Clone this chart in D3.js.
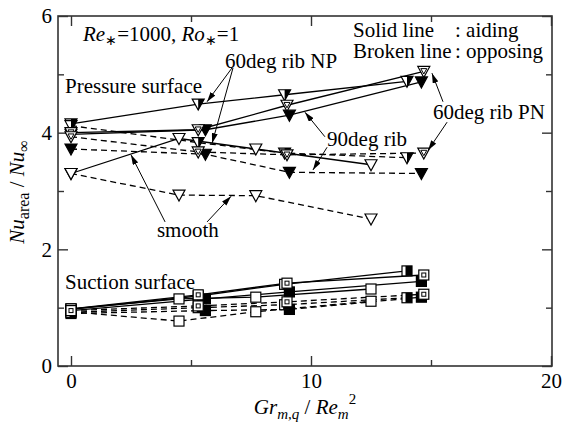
<!DOCTYPE html>
<html><head><meta charset="utf-8">
<script src="https://cdn.jsdelivr.net/npm/d3@7/dist/d3.min.js"></script>
</head>
<body style="margin:0;background:#fff;font-family:Liberation Serif"><svg id="chart" width="572" height="422"></svg>
<script>
// ---------- data ----------
const configs = ["smooth", "90deg rib", "60deg rib NP", "60deg rib PN"];
const grSmooth = [0, 4.5, 7.7, 12.5];
const gr90     = [0, 5.6, 9.1, 14.6];
const grNP     = [0, 5.3, 8.9, 14.0];
const grPN     = [0, 5.3, 9.0, 14.7];

// Pressure surface (aiding = solid, opposing = broken)
const pSmoothAid = [3.30, 3.90, 3.72, 3.45];
const pSmoothOpp = [3.30, 2.93, 2.92, 2.52];
const p90Aid     = [3.97, 4.05, 4.30, 4.87];
const p90Opp     = [3.72, 3.63, 3.32, 3.30];
const pNPAid     = [4.15, 4.49, 4.65, 4.88];
const pNPOpp     = [4.12, 3.83, 3.65, 3.57];
const pPNAid     = [4.00, 4.05, 4.47, 5.05];
const pPNOpp     = [3.93, 3.67, 3.62, 3.65];

// Suction surface
const sSmoothAid = [0.98, 1.15, 1.18, 1.32];
const sSmoothOpp = [0.93, 0.77, 0.93, 1.11];
const s90Aid     = [0.95, 1.15, 1.27, 1.45];
const s90Opp     = [0.90, 0.95, 0.97, 1.18];
const sNPAid     = [0.97, 1.20, 1.40, 1.63];
const sNPOpp     = [0.92, 1.00, 1.05, 1.17];
const sPNAid     = [0.98, 1.22, 1.42, 1.56];
const sPNOpp     = [0.95, 1.03, 1.10, 1.23];

const xMajorTicks = [0, 10, 20];
const xMinorTicks = [5, 15];
const yMajorTicks = [0, 2, 4, 6];
const yMinorTicks = [1, 3, 5];

// ---------- series table ----------
const grByConfig = {"smooth": grSmooth, "90deg rib": gr90, "60deg rib NP": grNP, "60deg rib PN": grPN};
const markerByConfig = {"smooth": "open", "90deg rib": "fill", "60deg rib NP": "half", "60deg rib PN": "double"};
const series = [
  {surf:"p", cfg:"smooth", mode:"aid", v:pSmoothAid}, {surf:"p", cfg:"smooth", mode:"opp", v:pSmoothOpp},
  {surf:"p", cfg:"90deg rib", mode:"aid", v:p90Aid}, {surf:"p", cfg:"90deg rib", mode:"opp", v:p90Opp},
  {surf:"p", cfg:"60deg rib NP", mode:"aid", v:pNPAid}, {surf:"p", cfg:"60deg rib NP", mode:"opp", v:pNPOpp},
  {surf:"p", cfg:"60deg rib PN", mode:"aid", v:pPNAid}, {surf:"p", cfg:"60deg rib PN", mode:"opp", v:pPNOpp},
  {surf:"s", cfg:"smooth", mode:"aid", v:sSmoothAid}, {surf:"s", cfg:"smooth", mode:"opp", v:sSmoothOpp},
  {surf:"s", cfg:"90deg rib", mode:"aid", v:s90Aid}, {surf:"s", cfg:"90deg rib", mode:"opp", v:s90Opp},
  {surf:"s", cfg:"60deg rib NP", mode:"aid", v:sNPAid}, {surf:"s", cfg:"60deg rib NP", mode:"opp", v:sNPOpp},
  {surf:"s", cfg:"60deg rib PN", mode:"aid", v:sPNAid}, {surf:"s", cfg:"60deg rib PN", mode:"opp", v:sPNOpp}
].map(s => ({...s, pts: grByConfig[s.cfg].map((g,i)=>({x:g, y:s.v[i]}))}));

// ---------- layout ----------
const SERIF = "Liberation Serif";
const svg = d3.select("#chart");
const frame = {left:58, right:552, top:16, bottom:366};
const x = d3.scaleLinear().domain([0, 20]).range([71, 551]);
const y = d3.scaleLinear().domain([0, 6]).range([366, 16]);
const FS = 21;
const axisColor = "#333";

svg.append("rect").attr("x", frame.left).attr("y", frame.top)
  .attr("width", frame.right-frame.left).attr("height", frame.bottom-frame.top)
  .attr("fill","none").attr("stroke", axisColor).attr("stroke-width", 1.6);

function styleAxis(g){
  g.attr("font-family", null).attr("font-size", null);
  g.select(".domain").remove();
  g.selectAll(".tick line").attr("stroke", axisColor).attr("stroke-width", 1.4);
  g.selectAll(".tick text").attr("font-size", FS).attr("font-family", SERIF).style("font-family", SERIF).attr("fill","#000");
}
svg.append("g").attr("transform",`translate(0,${frame.bottom})`)
  .call(d3.axisBottom(x).tickValues(xMajorTicks).tickSize(-10).tickPadding(7).tickFormat(d3.format("d"))).call(styleAxis);
svg.append("g").attr("transform",`translate(0,${frame.bottom})`)
  .call(d3.axisBottom(x).tickValues(xMinorTicks).tickSize(-6).tickFormat("")).call(styleAxis);
svg.append("g").attr("transform",`translate(0,${frame.top})`)
  .call(d3.axisTop(x).tickValues(xMajorTicks).tickSize(-10).tickFormat("")).call(styleAxis);
svg.append("g").attr("transform",`translate(0,${frame.top})`)
  .call(d3.axisTop(x).tickValues(xMinorTicks).tickSize(-6).tickFormat("")).call(styleAxis);
svg.append("g").attr("transform",`translate(${frame.left},0)`)
  .call(d3.axisLeft(y).tickValues(yMajorTicks).tickSize(-10).tickPadding(6).tickFormat(d3.format("d"))).call(styleAxis);
svg.append("g").attr("transform",`translate(${frame.left},0)`)
  .call(d3.axisLeft(y).tickValues(yMinorTicks).tickSize(-6).tickFormat("")).call(styleAxis);
svg.append("g").attr("transform",`translate(${frame.right},0)`)
  .call(d3.axisRight(y).tickValues(yMajorTicks).tickSize(-10).tickFormat("")).call(styleAxis);
svg.append("g").attr("transform",`translate(${frame.right},0)`)
  .call(d3.axisRight(y).tickValues(yMinorTicks).tickSize(-6).tickFormat("")).call(styleAxis);

// ---------- lines ----------
const line = d3.line().x(d=>x(d.x)).y(d=>y(d.y));
svg.append("g").selectAll("path").data(series).join("path")
  .attr("d", d=>line(d.pts)).attr("fill","none").attr("stroke","#000")
  .attr("stroke-width", 1.3)
  .attr("stroke-dasharray", d=>d.mode==="opp" ? "6,4" : null);

// ---------- markers ----------
function drawMarker(g, surf, type){
  if (surf === "p") {
    const tri = "M-6,-5L6,-5L0,6Z";
    g.append("path").attr("d", tri).attr("fill", type==="fill" ? "#000" : "#fff").attr("stroke","#000").attr("stroke-width",1.2);
    if (type === "half") g.append("path").attr("d","M0,-5L6,-5L0,6Z").attr("fill","#000");
    if (type === "double") g.append("path").attr("d","M-3,-2.8L3,-2.8L0,2.6Z").attr("fill","#fff").attr("stroke","#000").attr("stroke-width",1);
  } else {
    g.append("rect").attr("x",-5).attr("y",-5).attr("width",10).attr("height",10)
      .attr("fill", type==="fill" ? "#000" : "#fff").attr("stroke","#000").attr("stroke-width",1.2);
    if (type === "half") g.append("rect").attr("x",-1.5).attr("y",-5).attr("width",6.5).attr("height",10).attr("fill","#000");
    if (type === "double") g.append("rect").attr("x",-2).attr("y",-2).attr("width",4).attr("height",4).attr("fill","#fff").attr("stroke","#000").attr("stroke-width",1);
  }
}
const mg = svg.append("g");
series.forEach(s => {
  s.pts.forEach(p => {
    const g = mg.append("g").attr("transform", `translate(${x(p.x)},${y(p.y)})`);
    drawMarker(g, s.surf, markerByConfig[s.cfg]);
  });
});

// ---------- annotations ----------
svg.append("defs").append("marker").attr("id","ah").attr("viewBox","0 0 10 6")
  .attr("refX",10).attr("refY",3).attr("markerWidth",10).attr("markerHeight",6)
  .attr("markerUnits","userSpaceOnUse").attr("orient","auto")
  .append("path").attr("d","M0,0L10,3L0,6Z").attr("fill","#000");

const arrows = [
  [6.71,5.11, 5.67,4.53], [6.75,5.11, 5.88,3.82],
  [10.58,3.93, 9.75,4.35], [10.67,3.75, 10.08,3.36],
  [15.5,4.53, 15.04,5.02], [15.67,4.18, 14.88,3.70],
  [3.92,2.47, 2.5,3.62], [5.67,2.47, 6.67,2.91]
];
svg.append("g").selectAll("line").data(arrows).join("line")
  .attr("x1",d=>x(d[0])).attr("y1",d=>y(d[1])).attr("x2",d=>x(d[2])).attr("y2",d=>y(d[3]))
  .attr("stroke","#000").attr("stroke-width",1).attr("marker-end","url(#ah)");

const labels = [
  {t:"60deg rib NP", X:6.42, Y:5.11},
  {t:"Pressure surface", X:-0.25, Y:4.68},
  {t:"60deg rib PN", X:15.08, Y:4.23},
  {t:"90deg rib", X:10.67, Y:3.77},
  {t:"smooth", X:3.58, Y:2.21},
  {t:"Suction surface", X:-0.25, Y:1.32},
  {t:"Solid line", X:11.75, Y:5.64},
  {t:": aiding", X:16.0, Y:5.64},
  {t:"Broken line", X:11.75, Y:5.28},
  {t:": opposing", X:16.0, Y:5.28}
];
svg.append("g").selectAll("text").data(labels).join("text")
  .attr("x",d=>x(d.X)).attr("y",d=>y(d.Y)).attr("font-size",FS).attr("font-family",SERIF).style("font-family",SERIF).text(d=>d.t);

function rich(sel){ return sel.attr("font-size", FS).attr("font-family",SERIF).style("font-family",SERIF); }

const cond = rich(svg.append("text").attr("x", x(0.5)).attr("y", y(5.57)));
cond.append("tspan").attr("font-style","italic").text("Re");
cond.append("tspan").attr("font-size",14).attr("dy",4).text("∗");
cond.append("tspan").attr("dy",-4).text("=1000, ");
cond.append("tspan").attr("font-style","italic").text("Ro");
cond.append("tspan").attr("font-size",14).attr("dy",4).text("∗");
cond.append("tspan").attr("dy",-4).text("=1");

const xt = rich(svg.append("text").attr("x", 305).attr("y", 414).attr("text-anchor","middle"));
xt.append("tspan").attr("font-style","italic").text("Gr");
xt.append("tspan").attr("font-style","italic").attr("font-size",15).attr("dy",5).text("m,q");
xt.append("tspan").attr("dy",-5).text(" / ");
xt.append("tspan").attr("font-style","italic").text("Re");
xt.append("tspan").attr("font-style","italic").attr("font-size",15).attr("dy",5).text("m");
xt.append("tspan").attr("font-size",15).attr("dy",-15).text("2");

const yt = rich(svg.append("text").attr("transform","translate(24,192) rotate(-90)").attr("text-anchor","middle"));
yt.append("tspan").attr("font-style","italic").text("Nu");
yt.append("tspan").attr("font-size",16).attr("dy",5).text("area");
yt.append("tspan").attr("dy",-5).text(" / ");
yt.append("tspan").attr("font-style","italic").text("Nu");
yt.append("tspan").attr("font-size",16).attr("dy",5).text("∞");
</script></body></html>
